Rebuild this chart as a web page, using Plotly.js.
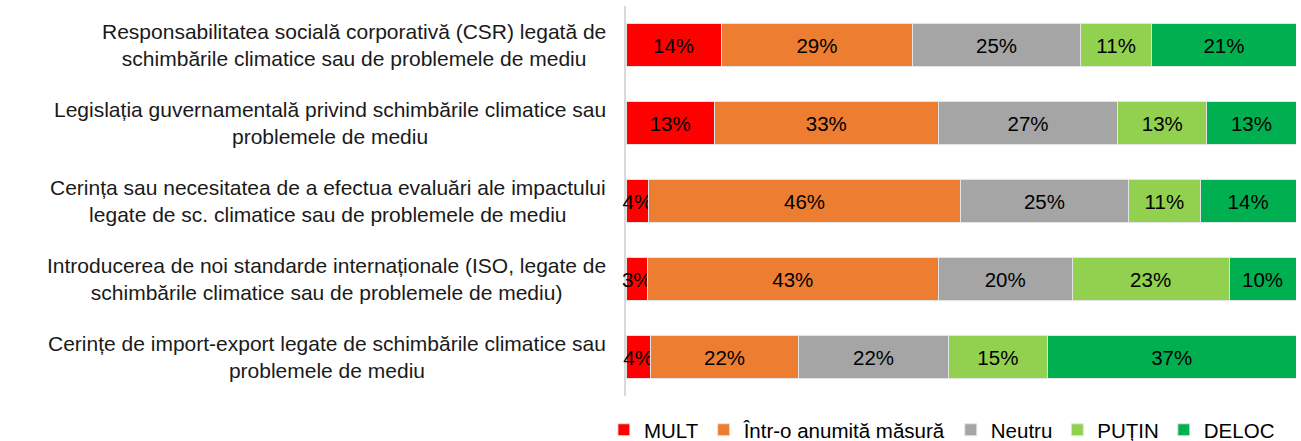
<!DOCTYPE html>
<html>
<head>
<meta charset="utf-8">
<script src="https://cdn.plot.ly/plotly-3.0.1.min.js"></script>
<style>html,body{margin:0;padding:0;background:#fff;}#chart{width:1301px;height:441px;}</style>
</head>
<body>
<div id="chart"></div>
<script>
const categories = [
  "Responsabilitatea socială corporativă (CSR) legată de<br>schimbările climatice sau de problemele de mediu",
  "Legislația guvernamentală privind schimbările climatice sau<br>problemele de mediu",
  "Cerința sau necesitatea de a efectua evaluări ale impactului<br>legate de sc. climatice sau de problemele de mediu",
  "Introducerea de noi standarde internaționale (ISO, legate de<br>schimbările climatice sau de problemele de mediu)",
  "Cerințe de import-export legate de schimbările climatice sau<br>problemele de mediu"
];
const seriesNames = ["MULT", "Într-o anumită măsură", "Neutru", "PUȚIN", "DELOC"];
const mult    = [14.2, 13.2, 3.4, 3.2, 3.6];
const anumita = [28.6, 33.4, 46.5, 43.4, 22.2];
const neutru  = [25.0, 26.8, 25.1, 20.0, 22.3];
const putin   = [10.7, 13.3, 10.7, 23.4, 14.8];
const deloc   = [21.5, 13.3, 14.3, 10.0, 37.1];
const labelsMult    = ["14%", "13%", "4%", "3%", "4%"];
const labelsAnumita = ["29%", "33%", "46%", "43%", "22%"];
const labelsNeutru  = ["25%", "27%", "25%", "20%", "22%"];
const labelsPutin   = ["11%", "13%", "11%", "23%", "15%"];
const labelsDeloc   = ["21%", "13%", "14%", "10%", "37%"];
const colors = ["#FF0000", "#ED7D31", "#A5A5A5", "#92D050", "#00B050"];

const FONT = "Liberation Sans, Arial, sans-serif";
const values = [mult, anumita, neutru, putin, deloc];
const labels = [labelsMult, labelsAnumita, labelsNeutru, labelsPutin, labelsDeloc];

const traces = seriesNames.map((name, i) => ({
  type: "bar",
  orientation: "h",
  name: name,
  y: categories,
  x: values[i],
  text: labels[i],
  textposition: "inside",
  insidetextanchor: "middle",
  textangle: 0,
  cliponaxis: false,
  textfont: {family: FONT, size: 20.5, color: "#000"},
  marker: {color: colors[i], line: {color: "#e4e4e4", width: 1}},
  hoverinfo: "name+x"
}));

const annotations = categories.map(c => ({
  xref: "paper", yref: "y",
  x: 0, y: c,
  xanchor: "right", yanchor: "middle",
  xshift: -18,
  align: "center",
  text: c,
  showarrow: false,
  font: {family: FONT, size: 21, color: "#1a1a1a"}
}));

const layout = {
  width: 1301, height: 441,
  margin: {l: 626, r: 5, t: 6, b: 45, pad: 0, autoexpand: false},
  barmode: "stack",
  bargap: 0.45,
  paper_bgcolor: "#fff",
  plot_bgcolor: "#fff",
  font: {family: FONT, size: 20.5, color: "#000"},
  uniformtext: {mode: "show", minsize: 20.5},
  xaxis: {range: [0, 100], showticklabels: false, showgrid: false, zeroline: false, showline: false, fixedrange: true},
  yaxis: {autorange: "reversed", showticklabels: false, showgrid: false, zeroline: false,
          showline: true, linecolor: "#d9d9d9", linewidth: 2, ticks: "", fixedrange: true,
          layer: "below traces"},
  showlegend: true,
  legend: {orientation: "h", traceorder: "normal", xref: "paper", yref: "paper",
           x: -0.033, xanchor: "left", y: -0.087, yanchor: "middle",
           font: {family: FONT, size: 20.5, color: "#000"},
           itemwidth: 30, bgcolor: "rgba(0,0,0,0)"},
  annotations: annotations
};

Plotly.newPlot("chart", traces, layout, {displayModeBar: false, staticPlot: true});
</script>
</body>
</html>
